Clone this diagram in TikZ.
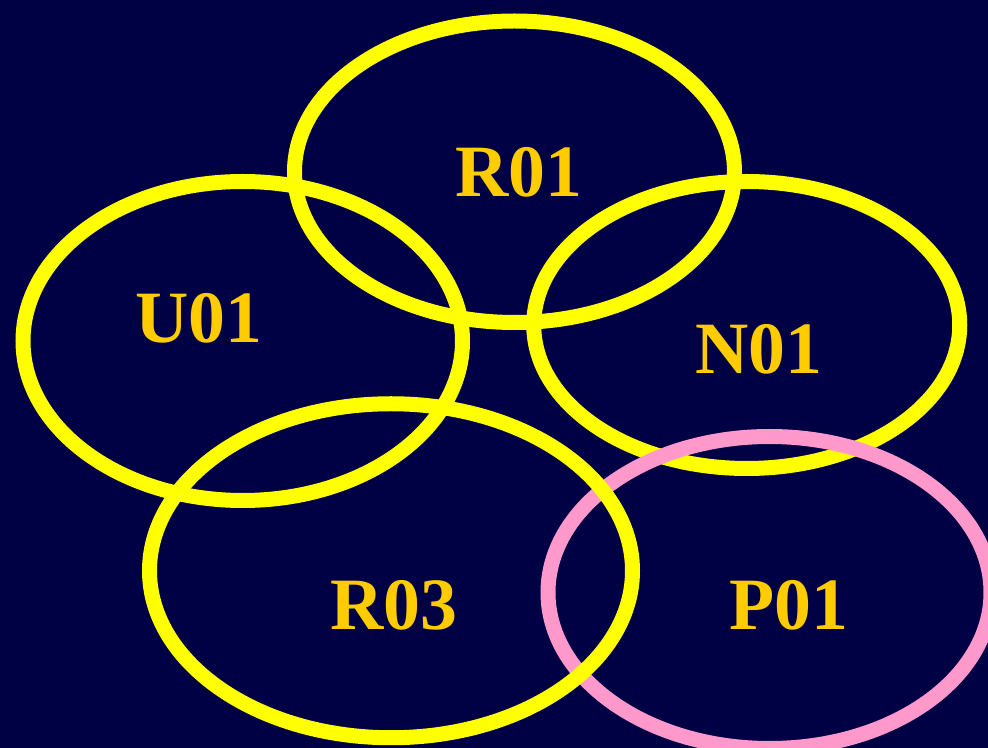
\documentclass[tikz,border=0pt]{standalone}
\usepackage{fontspec}
\setmainfont{Liberation Serif}
\usepackage{tikz}
\usetikzlibrary{shapes.geometric}

\definecolor{navy}{RGB}{0,0,68}
\definecolor{ringyellow}{RGB}{255,255,0}
\definecolor{ringpink}{RGB}{255,153,204}
\definecolor{labelgold}{RGB}{255,204,0}

\begin{document}
\begin{tikzpicture}[
    ring/.style={draw=ringyellow, ellipse, line width=0.3cm, inner sep=0pt},
    pinkring/.style={ring, draw=ringpink},
    label/.style={text=labelgold, font=\fontsize{42}{48}\selectfont\bfseries, inner sep=0pt}
]

% Background
\fill[navy] (0,0) rectangle (19.76,-14.96);
\useasboundingbox (0,0) rectangle (19.76,-14.96);

% Ellipses
\node[ring, minimum width=8.8cm, minimum height=6.03cm] (r01) at (10.29,-3.435) {};
\node[ring, minimum width=8.79cm, minimum height=6.38cm] (u01) at (4.855,-6.82) {};
\node[ring, minimum width=8.52cm, minimum height=5.74cm] (n01) at (14.935,-6.5) {};
\node[pinkring, minimum width=8.86cm, minimum height=6.24cm] (p01) at (15.39,-11.85) {};
\node[ring, minimum width=9.66cm, minimum height=6.68cm] (r03) at (7.82,-11.415) {};

% Labels
\node[label] (lr01) at (10.38,-3.44) {R01};
\node[label] (lu01) at (3.98,-6.36) {U01};
\node[label] (ln01) at (15.18,-6.98) {N01};
\node[label] (lr03) at (7.88,-12.1) {R03};
\node[label] (lp01) at (15.78,-12.1) {P01};

\end{tikzpicture}
\end{document}
